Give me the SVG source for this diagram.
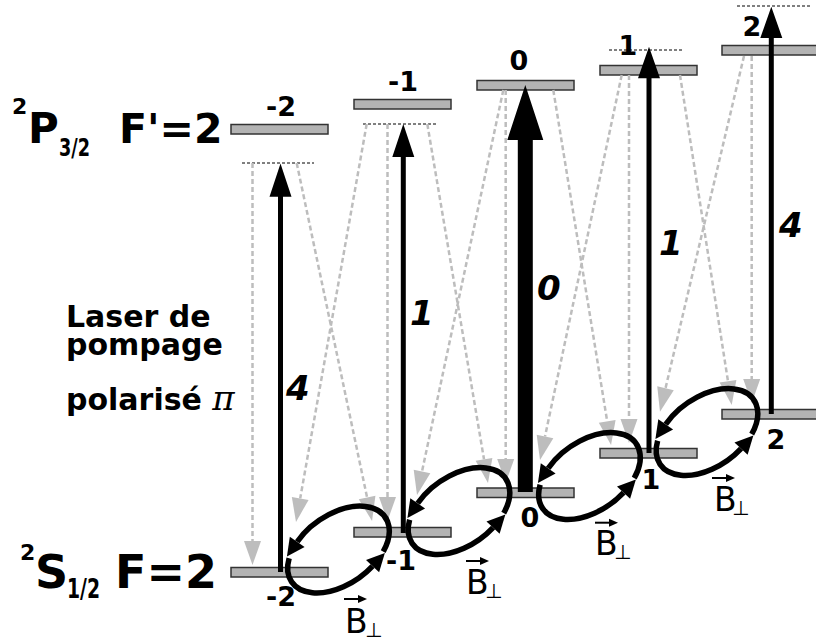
<svg xmlns="http://www.w3.org/2000/svg" width="816" height="643" viewBox="0 0 816 643">
<style>
.bar{fill:#b3b3b3;stroke:#333;stroke-width:1.5}
.lbl{font-family:"DejaVu Sans",sans-serif;font-weight:bold;font-size:27px;text-anchor:middle;fill:#000}
.virt{stroke:#000;stroke-width:1;stroke-dasharray:3,2;fill:none}
.decay{stroke:#bdbdbd;stroke-width:2.5;stroke-dasharray:5,3;fill:none;marker-end:url(#gh)}
.loop{stroke:#000;stroke-width:5.5;fill:none;marker-end:url(#lh)}
.num{font-family:"DejaVu Sans",sans-serif;font-weight:bold;font-style:italic;font-size:34px;fill:#000}
.big{font-family:"DejaVu Sans",sans-serif;font-weight:bold;fill:#000}
.b{font-family:"DejaVu Sans",sans-serif;font-size:33px;fill:#000}
.bs{font-family:"DejaVu Sans",sans-serif;font-size:20px;fill:#000}
.vec{stroke:#000;stroke-width:2;fill:none}
.pump{fill:#000;stroke:none}
</style>
<defs>
<marker id="gh" markerUnits="userSpaceOnUse" markerWidth="26" markerHeight="20" refX="0" refY="8.5" orient="auto" overflow="visible"><path d="M0,0 L24,8.5 L0,17 z" fill="#bdbdbd"/></marker>
<marker id="lh" markerUnits="userSpaceOnUse" markerWidth="22" markerHeight="20" refX="0" refY="9" orient="auto" overflow="visible"><path d="M0,0 L18,9 L0,18 z" fill="#000"/></marker>
<g id="loop">
<path class="loop" d="M35.4,27.4 A57,35 0 0 0 -29.4,-30.0"/>
<path class="loop" d="M-45.5,-21.1 A57,35 0 0 0 18.4,33.1"/>
</g>
</defs>
<rect width="816" height="643" fill="#fff"/>

<g id="title-P">
<text class="big" x="12" y="114" font-size="22">2</text>
<text class="big" x="28" y="143" font-size="42">P</text>
<text class="big" x="59" y="156" font-size="25" textLength="31" lengthAdjust="spacingAndGlyphs">3/2</text>
<text class="big" x="119" y="143" font-size="41">F'=2</text>
</g>
<g id="title-S">
<text class="big" x="20" y="560" font-size="22">2</text>
<text class="big" x="35" y="588" font-size="46">S</text>
<text class="big" x="67" y="598" font-size="26" textLength="33" lengthAdjust="spacingAndGlyphs">1/2</text>
<text class="big" x="115" y="588" font-size="46">F=2</text>
</g>
<g id="laser-label">
<text class="big" font-size="30"><tspan x="66" y="327">Laser de</tspan><tspan x="66" y="355">pompage</tspan><tspan x="66" y="410">polarisé <tspan font-family="'DejaVu Serif',serif" font-weight="normal" font-style="italic" font-size="34">π</tspan></tspan></text>
</g>

<g id="upper-m-2"><rect class="bar" x="231" y="124.5" width="97" height="9.5"/><text class="lbl" x="281" y="116">-2</text></g>
<g id="upper-m-1"><rect class="bar" x="354" y="99.5" width="97" height="9.5"/><text class="lbl" x="403" y="91">-1</text></g>
<g id="upper-m0"><rect class="bar" x="477" y="80.5" width="97" height="9.5"/><text class="lbl" x="519" y="70">0</text></g>
<g id="upper-m1"><rect class="bar" x="600" y="65.5" width="97" height="9.5"/><text class="lbl" x="628" y="55">1</text></g>
<g id="upper-m2"><rect class="bar" x="722" y="45.5" width="100" height="9.5"/><text class="lbl" x="752" y="36">2</text></g>

<g id="lower-m-2"><rect class="bar" x="231" y="567.5" width="97" height="9.5"/><text class="lbl" x="281" y="606">-2</text></g>
<g id="lower-m-1"><rect class="bar" x="354" y="527.5" width="97" height="9.5"/><text class="lbl" x="401" y="570">-1</text></g>
<g id="lower-m0"><rect class="bar" x="477" y="488" width="97" height="9.5"/><text class="lbl" x="530" y="527">0</text></g>
<g id="lower-m1"><rect class="bar" x="600" y="448.5" width="97" height="9.5"/><text class="lbl" x="651" y="489">1</text></g>
<g id="lower-m2"><rect class="bar" x="722" y="409.5" width="100" height="9.5"/><text class="lbl" x="776" y="449">2</text></g>

<g id="virtual-levels">
<line class="virt" x1="242" y1="163" x2="314" y2="163"/>
<line class="virt" x1="363" y1="124" x2="437" y2="124"/>
<line class="virt" x1="609" y1="50" x2="682" y2="50"/>
<line class="virt" x1="737" y1="6" x2="810" y2="6"/>
</g>

<g id="connectors">
<g id="decays">
<line class="decay" x1="252.5" y1="163" x2="252.5" y2="541"/>
<line class="decay" x1="296.7" y1="163" x2="367.1" y2="497.5"/>
<line class="decay" x1="366.7" y1="124" x2="300.2" y2="498.4"/>
<line class="decay" x1="387.5" y1="124" x2="387.5" y2="497"/>
<line class="decay" x1="427.3" y1="124" x2="484" y2="459.3"/>
<line class="decay" x1="503.3" y1="90" x2="422" y2="471.5"/>
<line class="decay" x1="505.7" y1="90" x2="505.7" y2="459"/>
<line class="decay" x1="553.3" y1="90" x2="607.2" y2="421.3"/>
<line class="decay" x1="621.7" y1="75" x2="545" y2="436.5"/>
<line class="decay" x1="629" y1="75" x2="629" y2="419"/>
<line class="decay" x1="680" y1="75" x2="728" y2="381.3"/>
<line class="decay" x1="744" y1="56" x2="665.5" y2="388.3"/>
<line class="decay" x1="751.7" y1="56" x2="751.7" y2="379"/>
</g>
<g id="pumps">
<path class="pump" d="M278,572 V196.7 H269.5 L280.5,163.5 L291.5,196.7 H283 V572 Z"/>
<path class="pump" d="M400.8,533 V157 H392.3 L403.3,124 L414.3,157 H405.8 V533 Z"/>
<path class="pump" d="M517.8,492 V140 H507.3 L525.3,85 L543.3,140 H532.8 V492 Z"/>
<path class="pump" d="M646.5,453 V78.3 H638 L649,46.7 L660,78.3 H651.5 V453 Z"/>
<path class="pump" d="M768.8,414 V38 H760.3 L771.3,6.7 L782.3,38 H773.8 V414 Z"/>
</g>
<g id="loops">
<use href="#loop" transform="translate(338.5,549.5) rotate(-35)"/>
<use href="#loop" transform="translate(459,511) rotate(-35)"/>
<use href="#loop" transform="translate(589.5,476) rotate(-35)"/>
<use href="#loop" transform="translate(707,432) rotate(-35)"/>
</g>
</g>

<g id="pump-weights">
<text class="num" x="286" y="400">4</text>
<text class="num" x="410" y="325">1</text>
<text class="num" x="537" y="300">0</text>
<text class="num" x="659" y="255">1</text>
<text class="num" x="779" y="237">4</text>
</g>

<g id="field-labels">
<g><path class="vec" d="M344,599 H359"/><path d="M358,595 L367,599 L358,603 Z"/><text class="b" x="345" y="633">B</text><text class="bs" x="365" y="637">⊥</text></g>
<g><path class="vec" d="M466,561 H481"/><path d="M480,557 L489,561 L480,565 Z"/><text class="b" x="466" y="594">B</text><text class="bs" x="485" y="598">⊥</text></g>
<g><path class="vec" d="M595,522.7 H610"/><path d="M609,518.7 L618,522.7 L609,526.7 Z"/><text class="b" x="595" y="555">B</text><text class="bs" x="614" y="559">⊥</text></g>
<g><path class="vec" d="M712,478 H727"/><path d="M726,474 L735,478 L726,482 Z"/><text class="b" x="714" y="511">B</text><text class="bs" x="732" y="515">⊥</text></g>
</g>
</svg>
